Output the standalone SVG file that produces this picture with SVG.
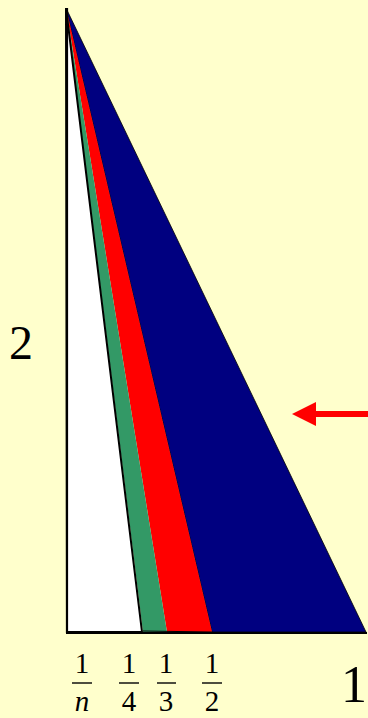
<svg xmlns="http://www.w3.org/2000/svg" width="368" height="718" viewBox="0 0 368 718">
<style>
.t{font-family:"Liberation Serif","Times New Roman",serif;fill:#000}
.f{font-size:29px;text-anchor:middle}
.bar{stroke:#000;stroke-width:1.4}
</style>
<rect x="0" y="0" width="368" height="718" fill="#FFFFCC"/>
<g id="triangle">
<polygon points="66,8 212,632 366,632" fill="#000080" stroke="#000" stroke-width="0.8"/>
<polygon points="66,8 167,632 212,632" fill="#FF0000"/>
<polygon points="66,8 143,632 167,632" fill="#339966"/>
<polygon points="66,8 67,632 142,632" fill="#FFFFFF" stroke="#000" stroke-width="2"/>
<line x1="143" y1="631" x2="212" y2="632" stroke="#000" stroke-width="1"/>
<line x1="67" y1="8" x2="67" y2="633" stroke="#000" stroke-width="2.2"/>
<line x1="66" y1="633" x2="367" y2="633" stroke="#000" stroke-width="2.2"/>
</g>
<g id="labels">
<text class="t" x="9" y="359" font-size="48">2</text>
<text class="t" x="341" y="702" font-size="52">1</text>
<text class="t f" x="82" y="673">1</text>
<line class="bar" x1="72" y1="683" x2="92" y2="683"/>
<text class="t f" x="82" y="711" font-style="italic">n</text>
<text class="t f" x="129" y="673">1</text>
<line class="bar" x1="119" y1="683" x2="139" y2="683"/>
<text class="t f" x="129" y="711">4</text>
<text class="t f" x="166" y="673">1</text>
<line class="bar" x1="157" y1="683" x2="176" y2="683"/>
<text class="t f" x="166" y="711">3</text>
<text class="t f" x="212" y="673">1</text>
<line class="bar" x1="202" y1="683" x2="222" y2="683"/>
<text class="t f" x="212" y="711">2</text>
</g>
<g id="connectors">
<line x1="314" y1="414" x2="368" y2="414" stroke="#FF0000" stroke-width="6"/>
<polygon points="292,414 316,402 316,426" fill="#FF0000"/>
</g>
</svg>
